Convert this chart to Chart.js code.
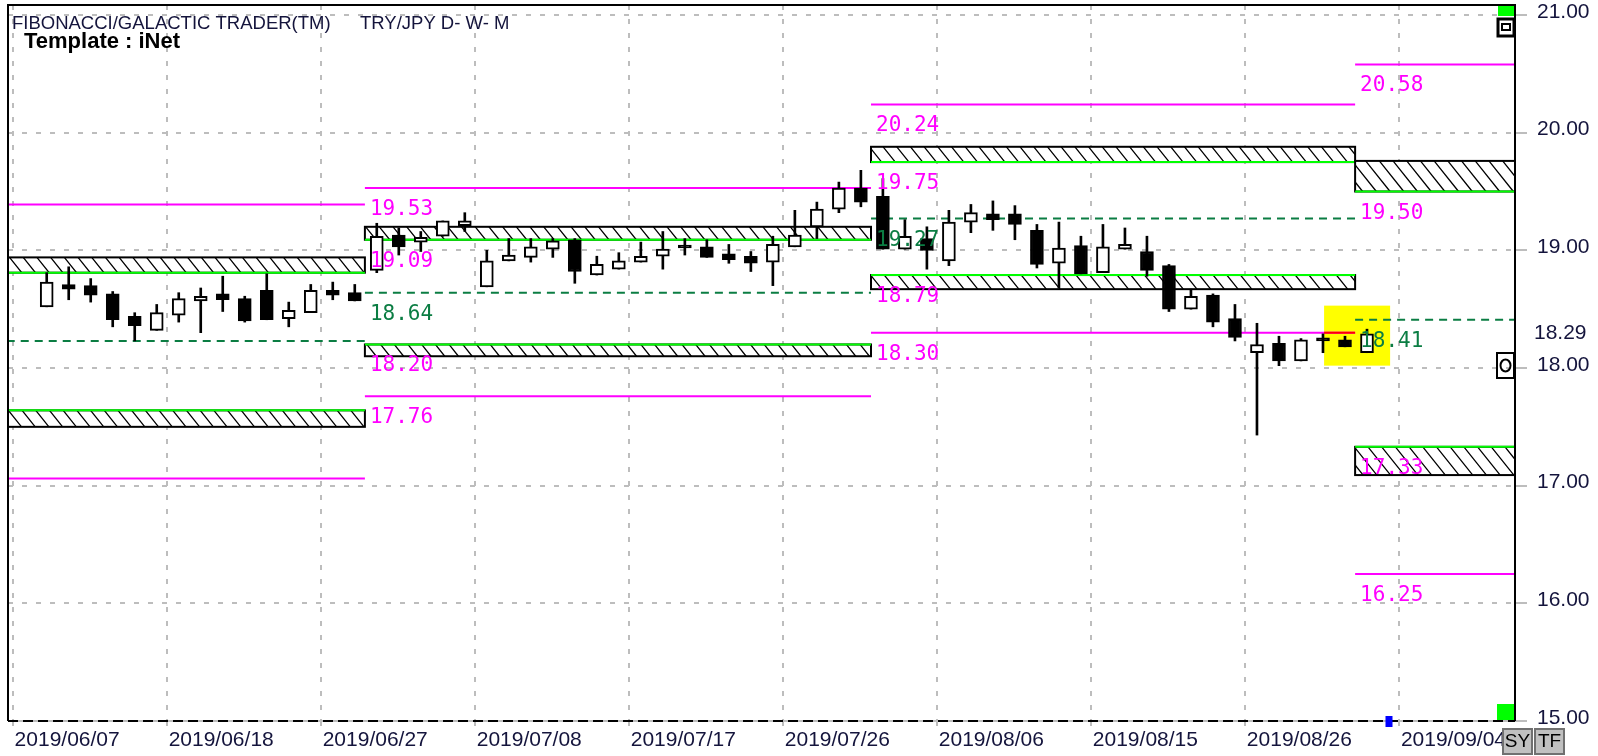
<!DOCTYPE html>
<html>
<head>
<meta charset="utf-8">
<title>TRY/JPY</title>
<script src="https://cdn.jsdelivr.net/npm/chart.js@4.4.1/dist/chart.umd.min.js"></script>
<style>
  html, body { margin: 0; padding: 0; background: #fff; overflow: hidden; }
  #canvas { display: block; }
</style>
</head>
<body>
<canvas id="canvas" width="1598" height="756"></canvas>
<script>
/* eslint-env browser */
'use strict'

// trading days after 2019/06/07 (that day is 0 on the x axis)
var days = [
  '06/10', '06/11', '06/12', '06/13', '06/14', '06/17', '06/18', '06/19', '06/20', '06/21', '06/24', '06/25', '06/26', '06/27', '06/28',
  '07/01', '07/02', '07/03', '07/04', '07/05', '07/08', '07/09', '07/10', '07/11', '07/12', '07/15', '07/16', '07/17', '07/18', '07/19',
  '07/22', '07/23', '07/24', '07/25', '07/26', '07/29', '07/30', '07/31',
  '08/01', '08/02', '08/05', '08/06', '08/07', '08/08', '08/09', '08/12', '08/13', '08/14', '08/15', '08/16', '08/19', '08/20', '08/21',
  '08/22', '08/23', '08/26', '08/27', '08/28', '08/29', '08/30',
  '09/02'
]
var opens = [
  18.52, 18.71, 18.70, 18.63, 18.44, 18.32, 18.45, 18.57, 18.63, 18.59,
  18.66, 18.42, 18.47, 18.66, 18.64, 18.83, 19.13, 19.07, 19.12, 19.21,
  18.69, 18.91, 18.94, 19.01, 19.09, 18.79, 18.84, 18.90, 18.95, 19.03,
  19.03, 18.97, 18.95, 18.90, 19.03, 19.20, 19.35, 19.53, 19.46, 19.01,
  19.10, 18.91, 19.24, 19.31, 19.31, 19.17, 18.89, 19.04, 18.81, 19.01,
  18.99, 18.87, 18.50, 18.62, 18.42, 18.13, 18.21, 18.06, 18.24, 18.24,
  18.13
]
var highs = [
  18.81, 18.86, 18.76, 18.65, 18.47, 18.54, 18.64, 18.68, 18.78, 18.61,
  18.80, 18.56, 18.71, 18.73, 18.71, 19.23, 19.19, 19.16, 19.25, 19.32,
  19.00, 19.10, 19.10, 19.10, 19.10, 18.95, 18.98, 19.07, 19.16, 19.10,
  19.09, 19.05, 18.99, 19.12, 19.34, 19.41, 19.58, 19.68, 19.61, 19.26,
  19.20, 19.34, 19.39, 19.42, 19.38, 19.22, 19.24, 19.12, 19.22, 19.19,
  19.12, 18.88, 18.67, 18.63, 18.54, 18.38, 18.27, 18.25, 18.29, 18.27,
  18.33
]
var lows = [
  18.52, 18.58, 18.56, 18.35, 18.23, 18.32, 18.39, 18.30, 18.48, 18.39,
  18.41, 18.35, 18.47, 18.58, 18.57, 18.81, 18.96, 18.99, 19.12, 19.16,
  18.69, 18.91, 18.90, 18.94, 18.72, 18.79, 18.84, 18.90, 18.84, 18.96,
  18.94, 18.89, 18.82, 18.70, 19.03, 19.10, 19.32, 19.37, 19.01, 19.01,
  18.84, 18.87, 19.15, 19.17, 19.09, 18.85, 18.68, 18.80, 18.81, 19.01,
  18.78, 18.48, 18.50, 18.35, 18.23, 17.43, 18.02, 18.06, 18.13, 18.18,
  18.13
]
var closes = [
  18.73, 18.67, 18.62, 18.41, 18.36, 18.47, 18.59, 18.61, 18.58, 18.40,
  18.41, 18.49, 18.66, 18.62, 18.57, 19.12, 19.03, 19.11, 19.25, 19.25,
  18.91, 18.96, 19.03, 19.08, 18.82, 18.88, 18.91, 18.95, 19.01, 19.02,
  18.94, 18.92, 18.89, 19.05, 19.13, 19.35, 19.53, 19.41, 19.01, 19.12,
  19.00, 19.24, 19.32, 19.26, 19.22, 18.88, 19.02, 18.80, 19.03, 19.05,
  18.83, 18.50, 18.61, 18.39, 18.26, 18.20, 18.06, 18.24, 18.23, 18.18,
  18.29
]

// axis ticks
var dateTicks = ['2019/06/07', '2019/06/18', '2019/06/27', '2019/07/08', '2019/07/17',
  '2019/07/26', '2019/08/06', '2019/08/15', '2019/08/26', '2019/09/04']
var dateTickDays = [0, 7, 14, 21, 28, 35, 42, 49, 56, 63]
var priceTicks = [15, 16, 17, 18, 19, 20, 21]

// monthly fibonacci levels (Jun, Jul, Aug, Sep)
var monthStartDay = [-20, 16, 39, 61]
var highLevels = [19.39, 19.53, 20.24, 20.58]
var upperLevels = [18.81, 19.09, 19.75, 19.50]
var midLevels = [18.23, 18.64, 19.27, 18.41]
var lowerLevels = [17.64, 18.20, 18.79, 17.33]
var lowLevels = [17.06, 17.76, 18.30, 16.25]
var upperZoneTops = [18.94, 19.20, 19.88, 19.76]
var lowerZoneBottoms = [17.50, 18.10, 18.67, 17.09]

var MAGENTA = '#ff00ff'
var FIB_GREEN = '#0b7d43'
var ZONE_GREEN = '#00ff00'
var AXIS_TEXT = '#14143c'
var FONT = 'Arial, "Liberation Sans", sans-serif'
var GRID = '#bdbdbd'

var highlight = { fromDay: 59.05, toDay: 62.05, low: 18.02, high: 18.53 }
var cursorDay = 62

function monthEdge (m) {
  return m < monthStartDay.length ? monthStartDay[m] - 0.54 : 80
}

function levelLine (value, fromDay, toDay, color, dash, order) {
  return {
    type: 'line',
    data: [{ x: fromDay, y: value }, { x: toDay, y: value }],
    borderColor: color,
    borderWidth: 2,
    borderDash: dash || [],
    pointRadius: 0,
    fill: false,
    order: order || 3
  }
}

var datasets = []
for (var m = 0; m < monthStartDay.length; m++) {
  datasets.push(levelLine(highLevels[m], monthEdge(m), monthEdge(m + 1), MAGENTA))
  datasets.push(levelLine(lowLevels[m], monthEdge(m), monthEdge(m + 1), MAGENTA))
  datasets.push(levelLine(midLevels[m], monthEdge(m), monthEdge(m + 1), FIB_GREEN, [8, 6]))
}
datasets.push(levelLine(lowLevels[2], highlight.fromDay, monthEdge(3), '#ff0000', null, 2.5))

datasets.push({
  type: 'bar',
  data: days.map(function (d, i) { return { x: i + 1, y: [lows[i], highs[i]] } }),
  backgroundColor: '#000',
  barThickness: 2,
  grouped: false,
  order: 2
})
datasets.push({
  type: 'bar',
  data: days.map(function (d, i) { return { x: i + 1, y: [opens[i], closes[i]] } }),
  backgroundColor: closes.map(function (c, i) { return c >= opens[i] ? '#fff' : '#000' }),
  borderColor: '#000',
  borderWidth: 2,
  borderSkipped: false,
  barThickness: 13,
  minBarLength: 3,
  grouped: false,
  order: 1
})

function drawZone (ctx, area, xs, ys, x0, x1, edge, outer) {
  var px0 = xs.getPixelForValue(x0)
  var px1 = xs.getPixelForValue(x1)
  var pe = ys.getPixelForValue(edge)
  var po = ys.getPixelForValue(outer)
  var top = Math.min(pe, po)
  var h = Math.abs(pe - po)
  ctx.save()
  ctx.beginPath()
  ctx.rect(area.left, area.top, area.right - area.left, area.bottom - area.top)
  ctx.clip()
  ctx.fillStyle = '#fff'
  ctx.fillRect(px0, top, px1 - px0, h)
  ctx.save()
  ctx.beginPath()
  ctx.rect(px0, top, px1 - px0, h)
  ctx.clip()
  ctx.strokeStyle = '#000'
  ctx.lineWidth = 1.3
  ctx.beginPath()
  for (var x = px0 - h; x < px1; x += 13.7) {
    ctx.moveTo(x, top)
    ctx.lineTo(x + 0.8 * h, top + h)
  }
  ctx.stroke()
  ctx.restore()
  ctx.lineWidth = 2
  ctx.strokeStyle = '#000'
  ctx.strokeRect(px0, top, px1 - px0, h)
  ctx.strokeStyle = ZONE_GREEN
  ctx.beginPath()
  ctx.moveTo(px0, pe)
  ctx.lineTo(px1, pe)
  ctx.stroke()
  ctx.restore()
}

var fibPlugin = {
  id: 'fib',
  beforeDatasetsDraw: function (chart) {
    var ctx = chart.ctx
    var xs = chart.scales.x
    var ys = chart.scales.y
    var area = chart.chartArea
    ctx.save()
    ctx.fillStyle = '#ffff00'
    var hx0 = xs.getPixelForValue(highlight.fromDay)
    var hx1 = xs.getPixelForValue(highlight.toDay)
    var hy0 = ys.getPixelForValue(highlight.high)
    var hy1 = ys.getPixelForValue(highlight.low)
    ctx.fillRect(hx0, hy0, hx1 - hx0, hy1 - hy0)
    ctx.restore()
    for (var m = 0; m < monthStartDay.length; m++) {
      drawZone(ctx, area, xs, ys, monthEdge(m), monthEdge(m + 1), upperLevels[m], upperZoneTops[m])
      drawZone(ctx, area, xs, ys, monthEdge(m), monthEdge(m + 1), lowerLevels[m], lowerZoneBottoms[m])
    }
  },
  afterDatasetsDraw: function (chart) {
    var ctx = chart.ctx
    var xs = chart.scales.x
    var ys = chart.scales.y
    var sets = [highLevels, upperLevels, midLevels, lowerLevels, lowLevels]
    var colors = [MAGENTA, MAGENTA, FIB_GREEN, MAGENTA, MAGENTA]
    ctx.save()
    ctx.font = '21px "DejaVu Sans Mono", monospace'
    ctx.textAlign = 'left'
    ctx.textBaseline = 'alphabetic'
    for (var m = 0; m < monthStartDay.length; m++) {
      if (monthEdge(m) < xs.min) continue
      var px = xs.getPixelForValue(monthEdge(m)) + 5
      for (var k = 0; k < sets.length; k++) {
        ctx.fillStyle = colors[k]
        ctx.fillText(sets[k][m].toFixed(2), px, ys.getPixelForValue(sets[k][m]) + 27)
      }
    }
    ctx.restore()
  },
  afterDraw: function (chart) {
    var ctx = chart.ctx
    var a = chart.chartArea
    var xs = chart.scales.x
    var ys = chart.scales.y
    ctx.save()

    // frame
    ctx.lineWidth = 2
    ctx.strokeStyle = '#000'
    ctx.beginPath()
    ctx.moveTo(a.left, a.bottom)
    ctx.lineTo(a.left, a.top)
    ctx.lineTo(a.right, a.top)
    ctx.lineTo(a.right, a.bottom)
    ctx.stroke()
    ctx.strokeStyle = GRID
    ctx.beginPath()
    ctx.moveTo(a.left, a.bottom)
    ctx.lineTo(a.right, a.bottom)
    ctx.stroke()
    ctx.setLineDash([10, 5])
    ctx.strokeStyle = '#000'
    ctx.stroke()
    ctx.setLineDash([])

    // corner markers
    ctx.fillStyle = ZONE_GREEN
    ctx.fillRect(a.right - 17, a.top + 1, 16, 10)
    ctx.fillRect(a.right - 18, a.bottom - 17, 17, 16)
    ctx.strokeStyle = '#000'
    ctx.lineWidth = 3
    ctx.strokeRect(a.right - 17, a.top + 14, 16, 17)
    ctx.lineWidth = 2
    ctx.strokeRect(a.right - 13, a.top + 19, 8, 6)
    var py18 = ys.getPixelForValue(18)
    ctx.strokeRect(a.right - 18, py18 - 15, 17, 25)
    ctx.beginPath()
    ctx.ellipse(a.right - 9.5, py18 - 2.5, 5, 6, 0, 0, Math.PI * 2)
    ctx.stroke()

    // cursor marker
    ctx.fillStyle = '#0000ff'
    ctx.fillRect(xs.getPixelForValue(cursorDay) - 3.5, a.bottom - 5, 7, 11)

    // last price on the axis
    ctx.fillStyle = AXIS_TEXT
    ctx.font = '21px ' + FONT
    ctx.textAlign = 'left'
    ctx.textBaseline = 'middle'
    ctx.fillText(closes[closes.length - 1].toFixed(2), a.right + 19, ys.getPixelForValue(closes[closes.length - 1]) - 1)

    // buttons
    var labels = ['SY', 'TF']
    for (var b = 0; b < 2; b++) {
      var bx = a.right - 13 + b * 32
      ctx.fillStyle = '#c0c0c0'
      ctx.fillRect(bx, a.bottom + 7, 31, 27)
      ctx.strokeStyle = '#707070'
      ctx.lineWidth = 2
      ctx.strokeRect(bx + 1, a.bottom + 8, 29, 25)
      ctx.fillStyle = '#000'
      ctx.font = '19px ' + FONT
      ctx.textAlign = 'center'
      ctx.fillText(labels[b], bx + 15.5, a.bottom + 21)
    }

    // titles
    ctx.textAlign = 'left'
    ctx.textBaseline = 'alphabetic'
    ctx.fillStyle = AXIS_TEXT
    ctx.font = '18.5px ' + FONT
    ctx.fillText('FIBONACCI/GALACTIC TRADER(TM)', a.left + 4, 29)
    ctx.fillText('TRY/JPY D- W- M', a.left + 352, 29)
    ctx.fillStyle = '#000'
    ctx.font = 'bold 22px ' + FONT
    ctx.fillText('Template : iNet', a.left + 16, 48)
    ctx.restore()
  }
}

var context = document.getElementById('canvas').getContext('2d')
new Chart(context, {
  type: 'bar',
  data: { datasets: datasets },
  options: {
    responsive: false,
    animation: false,
    events: [],
    layout: { padding: { left: 8, top: 5, right: 0, bottom: 0 } },
    plugins: {
      legend: { display: false },
      tooltip: { enabled: false }
    },
    scales: {
      x: {
        type: 'linear',
        min: -0.759,
        max: 67.726,
        offset: false,
        afterBuildTicks: function (scale) {
          scale.ticks = dateTickDays.map(function (d) { return { value: d - 0.55 } })
        },
        afterFit: function (scale) {
          scale.height = 35
          scale.paddingLeft = 0
          scale.paddingRight = 0
        },
        ticks: {
          autoSkip: false,
          maxRotation: 0,
          minRotation: 0,
          align: 'start',
          labelOffset: 2,
          padding: 2,
          color: AXIS_TEXT,
          font: { family: FONT, size: 21 },
          callback: function (v, i) { return dateTicks[i] }
        },
        grid: { color: GRID, lineWidth: 2, offset: false, tickLength: 5, tickColor: GRID, tickWidth: 2 },
        border: { display: false, dash: [5, 9] }
      },
      y: {
        position: 'right',
        min: 15,
        max: 21.085,
        afterBuildTicks: function (scale) {
          scale.ticks = priceTicks.map(function (v) { return { value: v } })
        },
        afterFit: function (scale) {
          scale.width = 83
          scale.paddingTop = 0
          scale.paddingBottom = 0
        },
        ticks: {
          padding: 10,
          labelOffset: -3,
          color: AXIS_TEXT,
          font: { family: FONT, size: 21 },
          callback: function (v) { return Number(v).toFixed(2) }
        },
        grid: { color: GRID, lineWidth: 2, tickLength: 12, tickColor: GRID, tickWidth: 2 },
        border: { display: false, dash: [5, 9] }
      }
    }
  },
  plugins: [fibPlugin]
})
</script>
</body>
</html>
